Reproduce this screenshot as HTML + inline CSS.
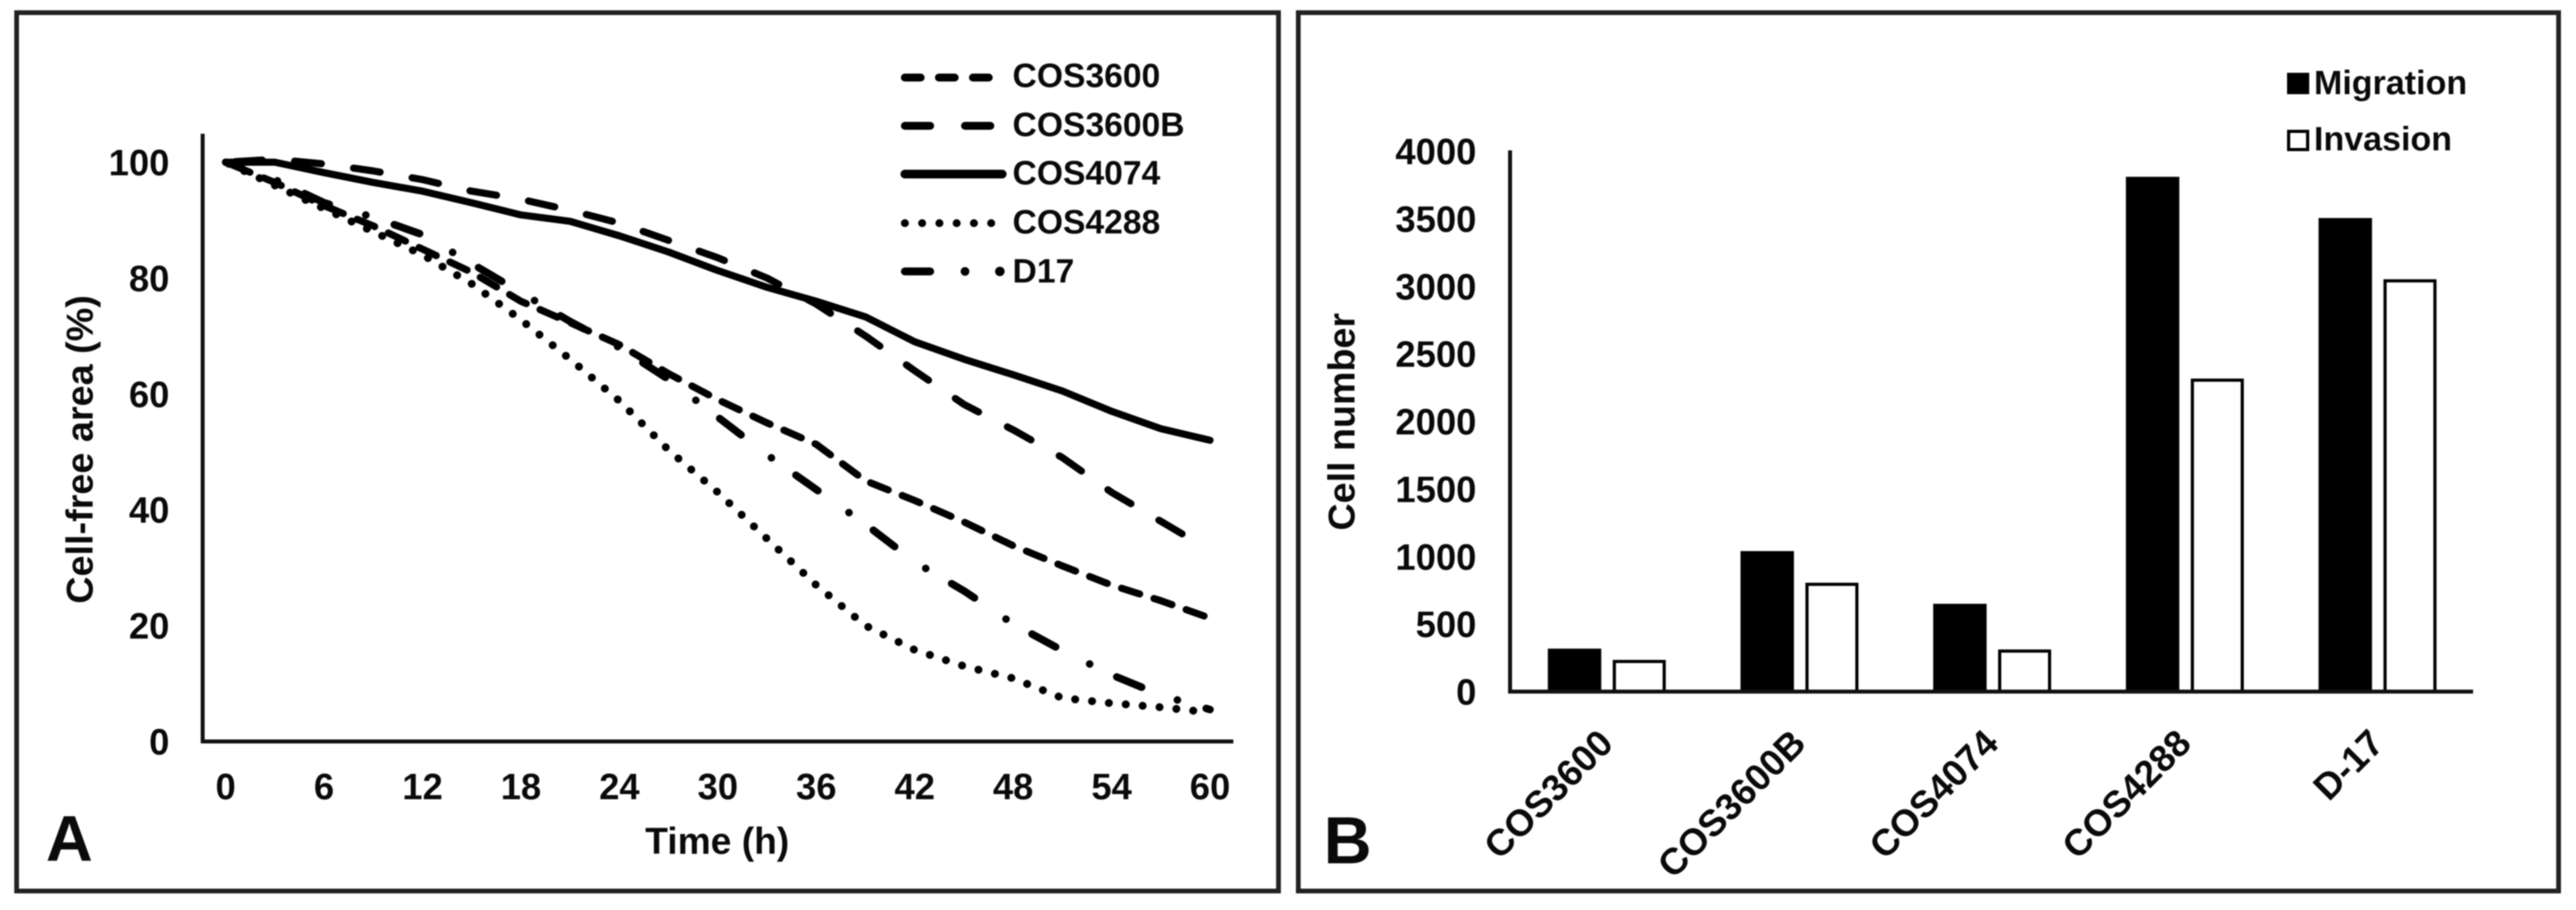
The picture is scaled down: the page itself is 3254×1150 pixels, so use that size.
<!DOCTYPE html>
<html lang="en">
<head>
<meta charset="utf-8">
<title>Cell-free area and cell number charts</title>
<style>
  html, body { margin: 0; padding: 0; background: #fff; }
  svg { display: block; filter: blur(0.7px); }
  text { font-family: "Liberation Sans", Arial, sans-serif; font-weight: bold; fill: #0a0a0a; }
</style>
</head>
<body>
<svg id="figure" width="3254" height="1150" viewBox="0 0 3254 1150" xmlns="http://www.w3.org/2000/svg">
  <rect x="0" y="0" width="3254" height="1150" fill="#fff"/>

  <g id="panelA">
    <rect x="21" y="16" width="1594" height="1110" fill="none" stroke="#222" stroke-width="6"/>
    <g id="a-ticks"></g>
    <g id="a-lines"></g>
    <line x1="256" y1="169" x2="256" y2="939" stroke="#111" stroke-width="5"/>
    <line x1="254" y1="937" x2="1558" y2="937" stroke="#111" stroke-width="5"/>
    <text transform="rotate(-90 117 568)" x="117" y="568" text-anchor="middle" font-size="47" textLength="390" lengthAdjust="spacingAndGlyphs">Cell-free area (%)</text>
    <text x="906" y="1079" text-anchor="middle" font-size="47">Time (h)</text>
    <text x="58" y="1088" font-size="82">A</text>

    <g>
      <line x1="1143" y1="98" x2="1253" y2="98" stroke="#000" stroke-width="10" stroke-linecap="round" stroke-dasharray="20 23"/>
      <text x="1279" y="110" font-size="42.5">COS3600</text>
      <line x1="1143" y1="159" x2="1253" y2="159" stroke="#000" stroke-width="10" stroke-linecap="round" stroke-dasharray="32 44"/>
      <text x="1279" y="172" font-size="42.5">COS3600B</text>
      <line x1="1143" y1="220" x2="1266" y2="220" stroke="#000" stroke-width="11" stroke-linecap="round"/>
      <text x="1279" y="233" font-size="42.5">COS4074</text>
      <line x1="1143" y1="282" x2="1254" y2="282" stroke="#000" stroke-width="10" stroke-linecap="round" stroke-dasharray="0.1 21.7"/>
      <text x="1279" y="295" font-size="42.5">COS4288</text>
      <line x1="1143" y1="343" x2="1175" y2="343" stroke="#000" stroke-width="10" stroke-linecap="round"/>
      <circle cx="1219" cy="343" r="5.5" fill="#000"/>
      <circle cx="1263" cy="343" r="6" fill="#000"/>
      <text x="1279" y="357" font-size="42.5">D17</text>
    </g>
  </g>

  <g id="panelB">
    <rect x="1640" y="16" width="1592" height="1110" fill="none" stroke="#222" stroke-width="6"/>
    <g id="b-ticks"></g>
    <g id="b-bars"></g>
    <line x1="1907.5" y1="190" x2="1907.5" y2="876" stroke="#111" stroke-width="5"/>
    <line x1="1905" y1="874" x2="3124" y2="874" stroke="#111" stroke-width="5"/>
    <text transform="rotate(-90 1711 533)" x="1711" y="533" text-anchor="middle" font-size="47" textLength="275" lengthAdjust="spacingAndGlyphs">Cell number</text>
    <text x="1672" y="1091" font-size="84">B</text>

    <g>
      <rect x="2889" y="92" width="28" height="27" fill="#000"/>
      <text x="2923" y="119" font-size="43">Migration</text>
      <rect x="2891" y="166" width="24" height="23" fill="#fff" stroke="#000" stroke-width="4"/>
      <text x="2923" y="190" font-size="43">Invasion</text>
    </g>
  </g>

<script>
/* Panel A data */
const hours = [0, 3, 6, 9, 12, 15, 18, 21, 24, 27, 30, 33, 36, 39, 42, 45, 48, 51, 54, 57, 60];
const cos3600 = [100, 96.5, 92.5, 89, 85, 81, 76, 72.3, 68.5, 63.5, 59, 55, 51.3, 45, 41.6, 37.9, 33.8, 30.3, 27, 24.3, 21.3];
const cos3600b = [100, 100.5, 99.7, 98.5, 97, 95, 93.6, 91.7, 89.5, 86.5, 83.5, 80, 75.5, 70, 64, 58.2, 53.8, 49, 43, 38, 33];
const cos4074 = [100, 100, 98.2, 96.5, 95, 93, 90.9, 89.8, 87.3, 84.5, 81.3, 78.4, 76, 73.3, 69, 66, 63.3, 60.5, 57, 54, 52];
const cos4288 = [100, 96, 92, 88, 84, 79, 72.8, 66, 58.8, 50.3, 43, 35, 27, 20, 15.8, 13, 10.9, 7.5, 6.6, 5.9, 5];
const d17 = [100, 97, 93, 90.5, 87.5, 82.5, 77.5, 72.5, 68, 62.5, 56, 49.5, 43.5, 37.5, 31, 26, 20.3, 15.7, 11.5, 8, 5.5];
const timeTickLabels = ["0", "6", "12", "18", "24", "30", "36", "42", "48", "54", "60"];
const percentTickLabels = ["0", "20", "40", "60", "80", "100"];

/* Panel B data */
const cellLines = ["COS3600", "COS3600B", "COS4074", "COS4288", "D-17"];
const migration = [318, 1040, 650, 3810, 3505];
const invasion = [223, 794, 300, 2305, 3040];
const cellTickLabels = ["0", "500", "1000", "1500", "2000", "2500", "3000", "3500", "4000"];

const SVG_NS = "http://www.w3.org/2000/svg";

/* Axis functions */
function xA(hour) { return 285 + (hour / 60) * (1528.5 - 285); }
function yA(pct) { return 937 - (pct / 100) * 732; }
function yB(count) { return 874 - (count / 4000) * 683; }
function bandB(i) { return 1907.5 + 243.4 * (i + 0.5); }

/* Panel A lines: the dash pattern is phased from the line's end, as in the figure */
const linesGroup = document.getElementById("a-lines");

function drawLine(values, dash, period, phaseAtEnd, width) {
  const line = document.createElementNS(SVG_NS, "polyline");
  const pts = values.map(function (v, i) { return xA(hours[i]).toFixed(1) + "," + yA(v).toFixed(1); });
  line.setAttribute("points", pts.join(" "));
  line.setAttribute("fill", "none");
  line.setAttribute("stroke", "#000");
  line.setAttribute("stroke-width", width);
  line.setAttribute("stroke-linecap", "round");
  line.setAttribute("stroke-linejoin", "round");
  linesGroup.appendChild(line);
  if (dash) {
    let total = 0;
    for (let i = 1; i < values.length; i++) {
      total += Math.hypot(xA(hours[i]) - xA(hours[i - 1]), yA(values[i]) - yA(values[i - 1]));
    }
    const offset = ((phaseAtEnd - total) % period + period) % period;
    line.setAttribute("stroke-dasharray", dash);
    line.setAttribute("stroke-dashoffset", offset.toFixed(2));
  }
  return line;
}

const lineCos3600 = drawLine(cos3600, "24 19", 43, 32, 9);



const lineCos3600b = drawLine(cos3600b, "34 41", 75, 75, 9);



const lineCos4074 = drawLine(cos4074, "", 0, 0, 9);



const lineCos4288 = drawLine(cos4288, "0.1 21.3", 21.4, 0, 10);



const lineD17 = drawLine(d17, "34 48 0.1 37.9", 120, 5, 9.5);



/* Panel A tick labels */
const aTicks = document.getElementById("a-ticks");
timeTickLabels.forEach(function (label) {
  const t = document.createElementNS(SVG_NS, "text");
  
  
  t.setAttribute("x", xA(Number(label)));
  t.setAttribute("y", 1010);
  t.setAttribute("text-anchor", "middle");
  t.setAttribute("font-size", "46");
  t.textContent = label;
  aTicks.appendChild(t);
});
percentTickLabels.forEach(function (label) {
  const t = document.createElementNS(SVG_NS, "text");
  
  
  t.setAttribute("x", 214);
  t.setAttribute("y", yA(Number(label)) + 16.5);
  t.setAttribute("text-anchor", "end");
  t.setAttribute("font-size", "46");
  t.textContent = label;
  aTicks.appendChild(t);
});

/* Panel B bars */
const barsGroup = document.getElementById("b-bars");
cellLines.forEach(function (name, i) {
  const c = bandB(i);
  const m = document.createElementNS(SVG_NS, "rect");
  
  
  m.setAttribute("x", c - 74);
  m.setAttribute("y", yB(migration[i]));
  m.setAttribute("width", 67.5);
  m.setAttribute("height", yB(0) - yB(migration[i]));
  m.setAttribute("fill", "#000");
  barsGroup.appendChild(m);

  const v = document.createElementNS(SVG_NS, "rect");
  
  
  v.setAttribute("x", c + 10);
  v.setAttribute("y", yB(invasion[i]));
  v.setAttribute("width", 63);
  v.setAttribute("height", yB(0) - yB(invasion[i]));
  v.setAttribute("fill", "#fff");
  v.setAttribute("stroke", "#000");
  v.setAttribute("stroke-width", "4");
  barsGroup.appendChild(v);

  const label = document.createElementNS(SVG_NS, "text");
  
  
  const lx = c + 11;
  const ly = 942;
  label.setAttribute("x", lx);
  label.setAttribute("y", ly);
  label.setAttribute("text-anchor", "end");
  label.setAttribute("font-size", "47");
  label.setAttribute("transform", "rotate(-45 " + lx + " " + ly + ")");
  label.textContent = name;
  barsGroup.appendChild(label);
});

/* Panel B tick labels */
const bTicks = document.getElementById("b-ticks");
cellTickLabels.forEach(function (label) {
  const t = document.createElementNS(SVG_NS, "text");
  
  
  t.setAttribute("x", 1865);
  t.setAttribute("y", yB(Number(label)) + 16.5);
  t.setAttribute("text-anchor", "end");
  t.setAttribute("font-size", "46");
  t.textContent = label;
  bTicks.appendChild(t);
});
</script>
</svg>
</body>
</html>
